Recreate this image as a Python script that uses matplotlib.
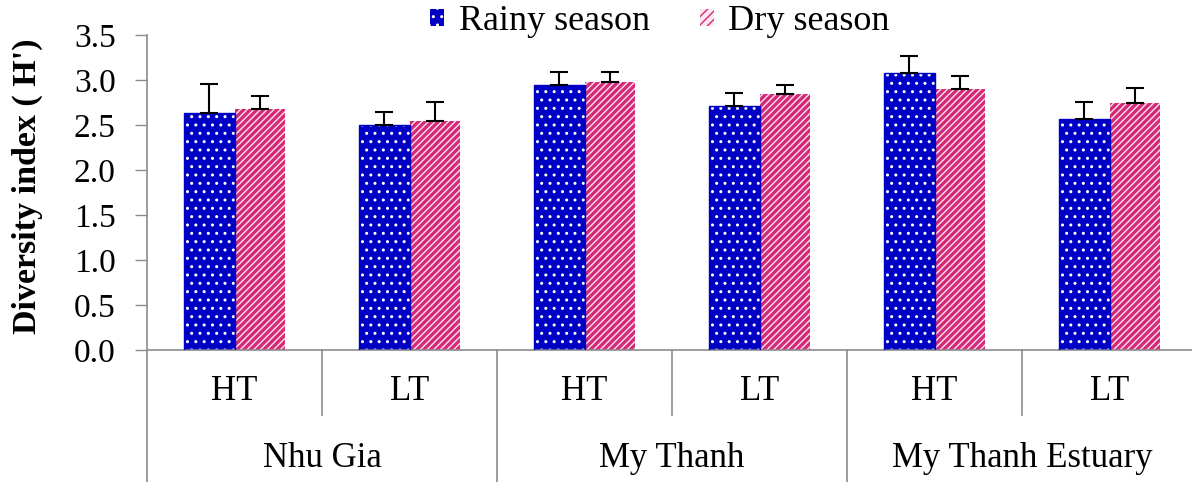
import matplotlib
matplotlib.use('Agg')
import matplotlib.pyplot as plt
import matplotlib.transforms as mtransforms
import numpy as np

# values
sites = ['Nhu Gia', 'My Thanh', 'My Thanh Estuary']
tides = ['HT', 'LT', 'HT', 'LT', 'HT', 'LT']
rainy = [2.63, 2.50, 2.94, 2.71, 3.08, 2.57]
rainy_err = [0.33, 0.14, 0.15, 0.15, 0.19, 0.19]
dry = [2.68, 2.54, 2.98, 2.85, 2.90, 2.74]
dry_err = [0.14, 0.22, 0.11, 0.09, 0.14, 0.17]
y_ticks = [0.0, 0.5, 1.0, 1.5, 2.0, 2.5, 3.0, 3.5]

plt.rcParams['font.family'] = ['Liberation Serif', 'DejaVu Serif']
W, H = 1192, 482
fig = plt.figure(figsize=(W / 100, H / 100), dpi=100)
# axes box in pixels: left 147, right 1197, top 35, bottom 350
ax = fig.add_axes([147 / W, (H - 350) / H, 1050 / W, 315 / H])

blue = '#0000C4'
pink = '#D42A78'
grey = '#8C8C8C'
x = np.arange(len(tides))
bw = 0.286

# rainy: blue with white dots
with plt.rc_context({'hatch.linewidth': 1.0}):
    b1 = ax.bar(x - bw / 2, rainy, bw, color=blue, edgecolor='white', linewidth=0, hatch='..', zorder=2)
    h1 = plt.Rectangle((0, 0), 1, 1, facecolor=blue, edgecolor='white', hatch='..', linewidth=0)
ax.bar(x - bw / 2, rainy, bw, fill=False, edgecolor=blue, linewidth=1, zorder=3)
# dry: light pink with deep pink stripes
with plt.rc_context({'hatch.linewidth': 2.4}):
    b2 = ax.bar(x + bw / 2, dry, bw, color='#FCE6EF', edgecolor=pink, linewidth=0, hatch='/////', zorder=2)
    h2 = plt.Rectangle((0, 0), 1, 1, facecolor='#FCE6EF', edgecolor=pink, hatch='////', linewidth=0)
for p in b1:
    if hasattr(p, 'set_hatch_linewidth'):
        p.set_hatch_linewidth(1.0)
for p in list(b2) + [h2]:
    if hasattr(p, 'set_hatch_linewidth'):
        p.set_hatch_linewidth(2.4)

ax.errorbar(x - bw / 2, rainy, yerr=[np.zeros(len(x)), rainy_err], fmt='none',
            ecolor='black', elinewidth=1.5, capsize=6.5, capthick=1.5, zorder=4)
ax.errorbar(x + bw / 2, dry, yerr=[np.zeros(len(x)), dry_err], fmt='none',
            ecolor='black', elinewidth=1.5, capsize=6.5, capthick=1.5, zorder=4)

ax.set_xlim(-0.5, 5.5)
ax.set_ylim(0, 3.5)
ax.set_yticks(y_ticks)
ax.set_yticklabels(['%.1f' % v for v in y_ticks], fontsize=24)
ax.tick_params(axis='y', direction='out', length=8.6, width=1, color=grey, pad=14)
ax.set_xticks([])
for s in ['top', 'right', 'left']:
    ax.spines[s].set_visible(False)
ax.spines['bottom'].set_color(grey)
ax.spines['bottom'].set_linewidth(1.2)

# category separators below the axis
trans = mtransforms.blended_transform_factory(ax.transData, ax.transAxes)
ax.plot([-0.5, -0.5], [1.0, -0.42], color=grey, lw=1.2, transform=trans, clip_on=False)
for xs in [0.5, 2.5, 4.5]:
    ax.plot([xs, xs], [0, -0.206], color=grey, lw=1.2, transform=trans, clip_on=False)
for xs in [1.5, 3.5]:
    ax.plot([xs, xs], [0, -0.42], color=grey, lw=1.2, transform=trans, clip_on=False)

for xi, t in zip(x, tides):
    ax.text(xi, -0.133, t, transform=trans, ha='center', va='center', fontsize=25)
for gi, s in enumerate(sites):
    ax.text(2 * gi + 0.5, -0.346, s, transform=trans, ha='center', va='center', fontsize=25)

fig.text(27 / W, 1 - 186 / H, "Diversity index ( H')", rotation=90, ha='center', va='center',
         fontsize=24.5, fontweight='bold')

fig.legend([h1, h2], ['Rainy season', 'Dry season'], loc='center', bbox_to_anchor=(660 / W, 1 - 22 / H),
           ncol=2, frameon=False, fontsize=26, handlelength=0.38, handleheight=0.38,
           handletextpad=0.4, columnspacing=1.4, borderpad=0)

fig.savefig('out.png', dpi=100)
